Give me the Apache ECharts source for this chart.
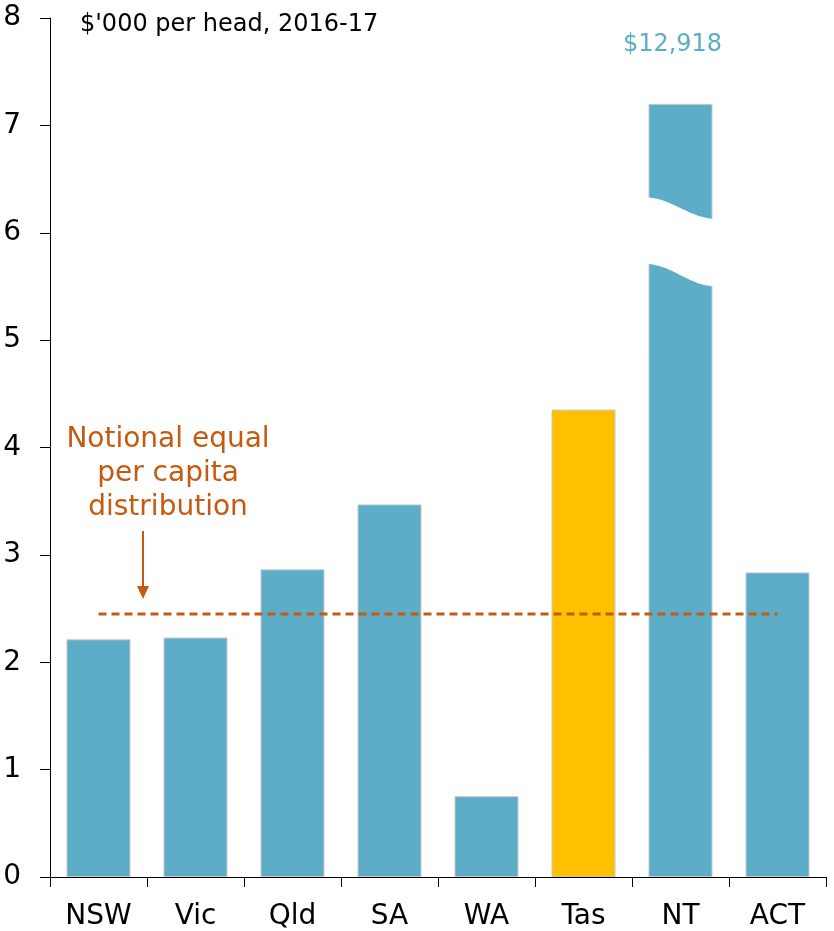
<!DOCTYPE html>
<html>
<head>
<meta charset="utf-8">
<script src="https://cdn.jsdelivr.net/npm/echarts@6/dist/echarts.min.js"></script>
<style>
  html, body { margin: 0; padding: 0; background: #fff; }
  #chart { width: 834px; height: 931px; }
</style>
</head>
<body>
<div id="chart"></div>
<script>
// States and territories, $'000 per head, 2016-17
const categories = ['NSW', 'Vic', 'Qld', 'SA', 'WA', 'Tas', 'NT', 'ACT'];
const values = [2.214, 2.23, 2.865, 3.47, 0.753, 4.353, 12.918, 2.837];
const equalShare = 2.45;
const yTicks = [0, 1, 2, 3, 4, 5, 6, 7, 8];

// Bars taller than the axis are drawn to this height with a wavy break
const displayCap = 7.2;
const breakLower = [5.71, 5.50];   // top edge of lower piece (left, right)
const breakUpper = [6.33, 6.13];   // bottom edge of upper piece (left, right)

const FONT = "'Century Gothic', 'URW Gothic', 'DejaVu Sans', sans-serif";
const BLUE = '#5DADC8';
const GOLD = '#FFC000';
const RUST = '#C55A11';

const chart = echarts.init(document.getElementById('chart'), null, { renderer: 'canvas' });

const barData = values.map((v, i) => ({
  value: Math.min(v, displayCap),
  itemStyle: { color: categories[i] === 'Tas' ? GOLD : BLUE }
}));

const brokenIdx = values.map((v, i) => (v > displayCap ? i : -1)).filter(i => i >= 0);

// S-shaped curve between two y values across the bar width
function wave(api, idx, yl, yr, halfW, reverse) {
  const pts = [];
  const n = 24;
  for (let k = 0; k <= n; k++) {
    const t = k / n;
    const s = (1 - Math.cos(Math.PI * t)) / 2;
    const v = yl + (yr - yl) * s;
    const c = api.coord([idx, v]);
    pts.push([c[0] - halfW + 2 * halfW * t, c[1]]);
  }
  return reverse ? pts.reverse() : pts;
}

chart.setOption({
  animation: false,
  grid: { left: 50, right: 8, top: 18, bottom: 53, containLabel: false },
  xAxis: {
    type: 'category',
    data: categories,
    axisLine: { lineStyle: { color: '#000', width: 1 } },
    axisTick: { show: true, length: 10, lineStyle: { color: '#000' } },
    axisLabel: { color: '#000', fontSize: 28, fontFamily: FONT, margin: 26 }
  },
  yAxis: {
    type: 'value',
    min: yTicks[0],
    max: yTicks[yTicks.length - 1],
    interval: 1,
    axisLine: { show: true, lineStyle: { color: '#000', width: 1 } },
    axisTick: { show: true, length: 10, lineStyle: { color: '#000' } },
    axisLabel: { color: '#000', fontSize: 28, fontFamily: FONT, margin: 29 },
    splitLine: { show: false }
  },
  series: [
    {
      type: 'bar',
      data: barData,
      barCategoryGap: '34%',
      itemStyle: { borderColor: '#C8C8C8', borderWidth: 1 },
      z: 2
    },
    {
      type: 'custom',
      data: brokenIdx.map(i => [i, values[i]]),
      z: 5,
      renderItem: function (params, api) {
        const idx = api.value(0);
        const size = api.size([1, 0]);
        const halfBar = size[0] * 0.66 / 2;
        const halfW = halfBar + 3;
        const lower = wave(api, idx, breakLower[0], breakLower[1], halfW, false);
        const upper = wave(api, idx, breakUpper[0], breakUpper[1], halfW, true);
        const top = api.coord([idx, displayCap]);
        const val = api.value(1);
        return {
          type: 'group',
          children: [
            {
              type: 'polygon',
              shape: { points: lower.concat(upper) },
              style: { fill: '#fff' }
            },
            {
              type: 'text',
              x: top[0] - 8,
              y: top[1] - 59,
              style: {
                text: '$' + Math.round(val * 1000).toLocaleString('en-US'),
                fill: BLUE,
                font: '24px ' + FONT,
                align: 'center',
                verticalAlign: 'middle'
              }
            }
          ]
        };
      }
    },
    {
      type: 'line',
      data: categories.map(() => equalShare),
      symbol: 'none',
      lineStyle: { color: RUST, width: 3, type: [8, 5] },
      z: 6
    }
  ],
  graphic: [
    {
      type: 'text',
      left: 80,
      top: 13,
      style: { text: "$'000 per head, 2016-17", fill: '#000', font: '24px ' + FONT }
    },
    {
      type: 'text',
      x: 168,
      y: 474,
      style: {
        text: 'Notional equal\nper capita\ndistribution',
        fill: RUST,
        font: '28px ' + FONT,
        lineHeight: 34,
        align: 'center',
        verticalAlign: 'middle'
      }
    },
    {
      type: 'line',
      shape: { x1: 143, y1: 531, x2: 143, y2: 588 },
      style: { stroke: RUST, lineWidth: 2 }
    },
    {
      type: 'polygon',
      shape: { points: [[137, 586], [149, 586], [143, 599]] },
      style: { fill: RUST }
    }
  ]
});
</script>
</body>
</html>
